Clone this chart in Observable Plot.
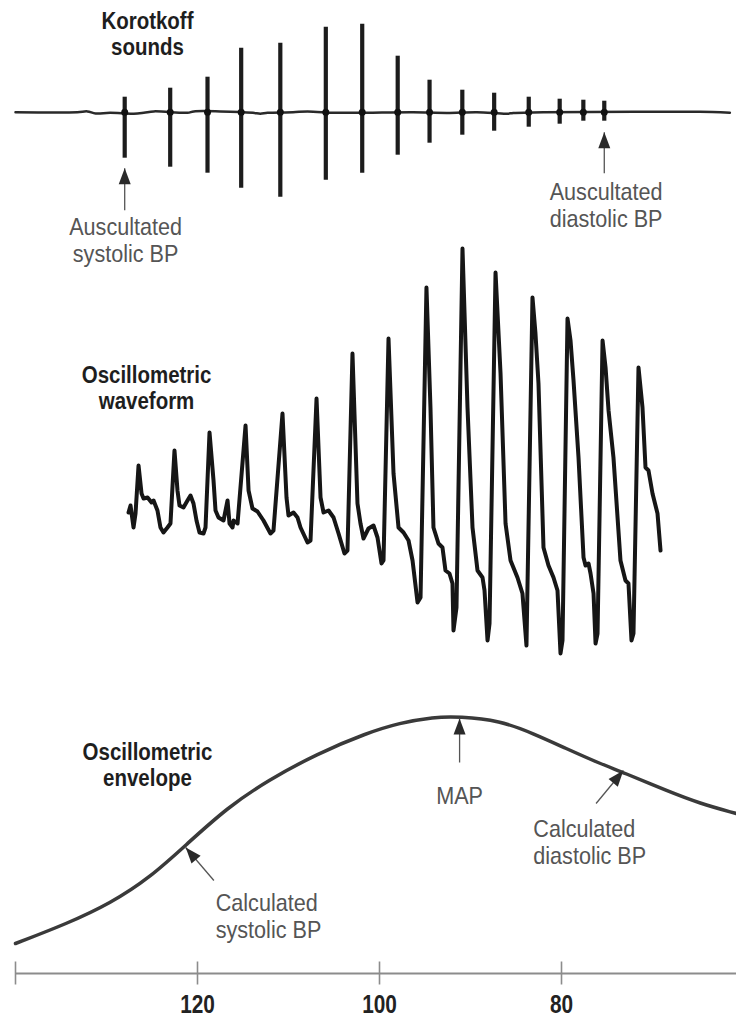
<!DOCTYPE html>
<html>
<head>
<meta charset="utf-8">
<script src="https://cdn.jsdelivr.net/npm/d3@7"></script>
<script src="https://cdn.jsdelivr.net/npm/@observablehq/plot@0.6"></script>
<style>
  html, body { margin: 0; padding: 0; background: #fff; }
  #chart { position: relative; width: 736px; height: 1018px; overflow: hidden; }
  #chart svg { position: absolute; left: 0; top: 0; background: transparent; overflow: visible; }
</style>
</head>
<body>
<div id="chart"></div>
<script>
// ---------- data ----------
const FONT = '"Liberation Sans", Arial, sans-serif';

// cuff pressure axis (mmHg), decreasing left to right
const pressureDomain = [140, 60.77];
const tickValues = [140, 120, 100, 80];
const tickLabels = ["", "120", "100", "80"];

// Korotkoff sounds: spike pressure, upper and lower excursion
const kSpikeP      = [128.0, 123.0, 118.9, 115.2, 110.9, 105.9, 101.9, 98.0, 94.5, 90.9, 87.4, 83.6, 80.2, 77.6, 75.3];
const kSpikeTop    = [1.5, 2.4, 3.5, 6.4, 6.9, 8.5, 8.8, 5.6, 3.2, 2.2, 1.9, 1.5, 1.3, 1.2, 1.1];
const kSpikeBottom = [-4.6, -5.5, -6.1, -7.6, -8.5, -6.8, -6.1, -4.3, -3.1, -2.3, -1.9, -1.5, -1.2, -0.9, -0.9];

// Korotkoff baseline (small wiggles)
const kBaseP = [140.0, 133.2, 132.1, 131.2, 129.6, 127.0, 125.9, 124.8, 121.1, 120.4, 117.5, 113.9, 113.1, 112.3, 109.5, 107.9, 105.1, 103.5, 101.4, 96.3, 92.6, 89.3, 86.0, 85.3, 82.0, 72.1, 68.5, 64.8, 61.5];
const kBaseA = [0, 0, 0.08, -0.12, -0.06, -0.15, -0.06, 0.08, -0.06, 0.08, 0.08, -0.06, -0.15, -0.06, 0, 0.08, -0.06, -0.06, -0.05, 0, -0.08, 0, -0.15, -0.08, 0, 0.04, 0.05, 0.04, -0.05];

// Oscillometric waveform: [pressure, oscillation]
const waveform = [
  [127.58,0.8],[127.36,1.5],[127.03,-0.7],[126.81,0.7],[126.48,5.5],[126.15,2.7],[125.93,2.2],[125.49,2.3],
  [125.05,1.8],[124.83,2.0],[124.40,1.0],[124.07,-0.7],[123.74,-1.2],[123.30,-0.7],[122.97,-0.3],
  [122.53,7.0],[122.20,3.0],[121.98,1.5],[121.54,1.3],[121.10,2.0],[120.77,2.5],[120.44,1.7],[120.11,0.0],
  [119.78,-1.2],[119.34,-1.3],[119.12,-0.7],
  [118.68,8.8],[118.24,4.0],[118.02,1.0],[117.69,0.3],[117.14,0.0],[116.70,2.0],[116.48,-0.3],[116.15,-0.7],
  [116.04,0.0],[115.60,-0.3],
  [114.72,9.5],[114.39,3.0],[113.96,1.2],[113.41,0.9],[112.75,0.0],[111.98,-1.3],[111.65,-1.0],
  [110.66,10.7],[110.22,2.3],[110.00,0.5],[109.45,0.8],[109.01,0.3],[108.68,-0.7],[107.91,-2.2],[107.58,-2.0],
  [106.92,12.2],[106.48,2.3],[106.15,0.8],[105.60,1.0],[105.05,0.3],[104.50,-1.3],[103.85,-3.3],[103.52,-3.0],
  [102.97,16.7],[102.42,1.7],[102.09,-0.3],[101.76,-1.8],[101.21,-0.8],[100.66,-0.5],[100.22,-1.7],[99.78,-4.3],[99.56,-4.0],
  [99.01,18.2],[98.46,4.7],[97.91,-0.7],[97.36,-1.2],[96.81,-2.0],[96.37,-4.0],[95.82,-8.2],[95.49,-7.7],
  [94.84,23.3],[94.40,11.3],[94.07,-0.7],[93.52,-2.3],[93.08,-2.7],[92.75,-5.0],[92.31,-5.3],[91.98,-6.3],[91.87,-11.0],[91.54,-8.7],
  [90.88,27.2],[90.33,11.3],[89.78,-0.7],[89.23,-5.0],[88.68,-5.7],[88.46,-7.0],[88.13,-12.0],[87.91,-10.3],
  [87.25,24.8],[86.70,14.7],[86.15,-0.3],[85.60,-4.0],[84.84,-5.7],[84.29,-7.3],[83.85,-12.5],
  [83.19,22.3],[82.86,18.7],[82.53,13.7],[81.98,-2.7],[81.43,-4.5],[80.88,-5.7],[80.44,-7.0],[80.11,-13.3],[79.89,-12.0],
  [79.34,20.2],[79.01,18.0],[78.68,14.0],[78.13,6.3],[77.58,-3.7],[77.36,-4.5],[77.03,-4.3],[76.81,-5.3],[76.48,-7.3],[76.26,-12.3],[76.04,-11.3],
  [75.49,18.0],[75.16,15.3],[74.83,11.0],[74.29,6.3],[73.52,-4.0],[72.97,-6.0],[72.64,-6.3],[72.31,-12.0],[72.09,-11.3],
  [71.54,15.3],[71.10,11.3],[70.77,5.3],[70.44,5.0],[70.00,2.7],[69.45,0.7],[69.12,-3.0]
];

// Oscillometric envelope
const envP = [140.0, 134.3, 129.6, 125.2, 121.1, 116.7, 112.3, 106.8, 101.4, 97.8, 94.1, 91.2, 86.8, 83.1, 79.5, 75.8, 73.2, 68.5, 64.8, 60.8];
const envA = [3.0, 5.0, 7.0, 9.6, 13.0, 16.6, 19.3, 22.0, 24.05, 25.05, 25.65, 25.7, 25.3, 24.0, 22.5, 21.0, 20.1, 18.3, 17.0, 16.0];

// annotations
const kTitle = [{p: 125.5, a: 5.7, text: "Korotkoff\nsounds"}];
const kNotes = [
  {p: 127.9, a: -15.0, text: "Auscultated\nsystolic BP"},
  {p: 75.1, a: -11.5, text: "Auscultated\ndiastolic BP"}
];
const kArrows = [
  {tipP: 128.0, tipA: -5.6, tailP: 128.0, tailA: -9.8},
  {tipP: 75.3, tipA: -2.0, tailP: 75.3, tailA: -6.1}
];
const wTitle = [{p: 125.6, a: 11.2, text: "Oscillometric\nwaveform"}];
const eTitle = [{p: 125.5, a: 18.8, text: "Oscillometric\nenvelope"}];
const eNotesLeft = [
  {p: 118.0, a: 3.6, text: "Calculated\nsystolic BP"},
  {p: 83.1, a: 11.0, text: "Calculated\ndiastolic BP"}
];
const eNotesCenter = [{p: 91.2, a: 17.0, text: "MAP"}];
const eArrows = [
  {tipP: 121.3, tipA: 12.6, tailP: 118.2, tailA: 9.3},
  {tipP: 91.2, tipA: 25.5, tailP: 91.2, tailA: 21.1},
  {tipP: 73.2, tipA: 20.3, tailP: 76.2, tailA: 17.0}
];

// ---------- scales ----------
const X = {domain: pressureDomain, range: [15, 736]};
const KY = {domain: [-10, 10], range: [211.7, 11.7]};
const WY = {domain: [-20, 30], range: [720, 220]};
const EY = {domain: [0, 30], range: [973, 673]};

function lin(s) {
  const k = (s.range[1] - s.range[0]) / (s.domain[1] - s.domain[0]);
  return v => s.range[0] + (v - s.domain[0]) * k;
}
function withRotation(arrows, ys) {
  const fx = lin(X), fy = lin(ys);
  return arrows.map(d => {
    const dx = fx(d.tipP) - fx(d.tailP), dy = fy(d.tipA) - fy(d.tailA);
    return {...d, rot: Math.atan2(dx, -dy) * 180 / Math.PI};
  });
}

const arrowHead = {
  draw(ctx) { ctx.moveTo(0, 0); ctx.lineTo(-6, 16); ctx.lineTo(6, 16); ctx.closePath(); }
};

// horizontal condensation per font size (reference uses a condensed grotesque)
const condenseBySize = {"23": 0.89, "24": 0.9, "26": 0.8};

const TITLE = {fontSize: 23, fontWeight: "bold", fill: "#1e1e1e", lineHeight: 1.12, lineAnchor: "bottom", fontFamily: FONT};
const NOTE = {fontSize: 24, fill: "#555", lineHeight: 1.12, lineAnchor: "bottom", fontFamily: FONT};

function arrowMarks(arrows, ys) {
  const data = withRotation(arrows, ys);
  return [
    Plot.link(data, {x1: "tailP", y1: "tailA", x2: "tipP", y2: "tipA", stroke: "#555", strokeWidth: 1.3}),
    Plot.dot(data, {x: "tipP", y: "tipA", symbol: arrowHead, fill: "#2a2a2a", rotate: "rot"})
  ];
}

function condense(svg) {
  svg.querySelectorAll("g[aria-label='text']").forEach(g => {
    const s = condenseBySize[g.getAttribute("font-size")];
    if (!s) return;
    g.querySelectorAll("text").forEach(t => {
      let tr = t.getAttribute("transform");
      if (!tr) {
        const x = t.getAttribute("x") || 0, y = t.getAttribute("y") || 0;
        tr = `translate(${x},${y})`;
        t.removeAttribute("x"); t.removeAttribute("y");
      }
      t.setAttribute("transform", `${tr} scale(${s},1)`);
    });
  });
  return svg;
}

function panel(ys, marks) {
  return condense(Plot.plot({
    width: 736, height: 1018,
    marginTop: 0, marginRight: 0, marginBottom: 0, marginLeft: 0,
    x: {...X, axis: null},
    y: {...ys, axis: null},
    style: {background: "transparent", overflow: "visible", fontFamily: FONT},
    marks
  }));
}

const kSpikes = kSpikeP.map((p, i) => ({p, top: kSpikeTop[i], bottom: kSpikeBottom[i]}));
const kBase = kBaseP.map((p, i) => ({p, a: kBaseA[i]}));
const wave = waveform.map(([p, a]) => ({p, a}));
const env = envP.map((p, i) => ({p, a: envA[i]}));
const ticks = tickValues.map((v, i) => ({v, label: tickLabels[i]}));

const korotkoff = panel(KY, [
  Plot.line(kBase, {x: "p", y: "a", stroke: "#2a2a2a", strokeWidth: 2.5, curve: "catmull-rom"}),
  Plot.ruleX(kSpikes, {x: "p", y1: "bottom", y2: "top", stroke: "#1c1c1c", strokeWidth: 4.2}),
  Plot.dot(kSpikes, {x: "p", y: 0, r: 3.5, fill: "#111"}),
  ...arrowMarks(kArrows, KY),
  Plot.text(kTitle, {x: "p", y: "a", text: "text", ...TITLE}),
  Plot.text(kNotes, {x: "p", y: "a", text: "text", ...NOTE})
]);

const oscWave = panel(WY, [
  Plot.line(wave, {x: "p", y: "a", stroke: "#161616", strokeWidth: 4, strokeLinejoin: "round", strokeLinecap: "round"}),
  Plot.text(wTitle, {x: "p", y: "a", text: "text", ...TITLE})
]);

const envelope = panel(EY, [
  Plot.line(env, {x: "p", y: "a", stroke: "#3a3a3a", strokeWidth: 3.5, curve: "basis"}),
  ...arrowMarks(eArrows, EY),
  Plot.text(eTitle, {x: "p", y: "a", text: "text", ...TITLE}),
  Plot.text(eNotesLeft, {x: "p", y: "a", text: "text", textAnchor: "start", ...NOTE}),
  Plot.text(eNotesCenter, {x: "p", y: "a", text: "text", textAnchor: "middle", ...NOTE}),
  Plot.ruleY([0], {x1: pressureDomain[0], x2: pressureDomain[1], stroke: "#8c8c8c", strokeWidth: 2}),
  Plot.ruleX(ticks, {x: "v", y1: -1.15, y2: 1.15, stroke: "#8c8c8c", strokeWidth: 1.6}),
  Plot.text(ticks, {x: "v", y: -3.9, text: "label", fontSize: 26, fontWeight: "bold", fill: "#222", lineAnchor: "bottom", fontFamily: FONT})
]);

const chart = document.getElementById("chart");
chart.append(korotkoff, oscWave, envelope);
</script>
</body>
</html>
